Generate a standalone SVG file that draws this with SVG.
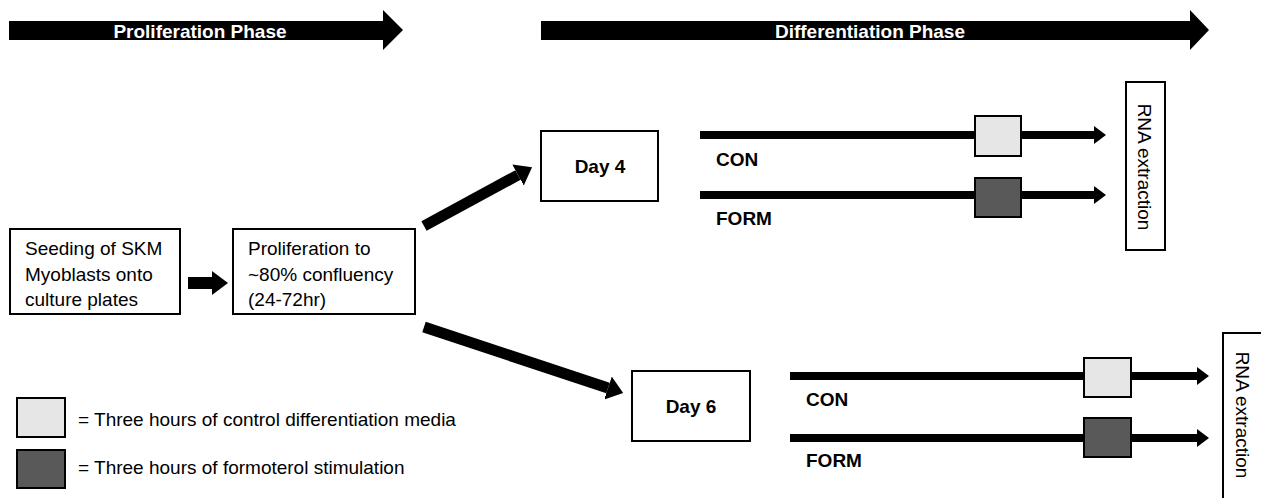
<svg xmlns="http://www.w3.org/2000/svg" width="1261" height="498" viewBox="0 0 1261 498">
<style>
text{font-family:"Liberation Sans",Arial,sans-serif;fill:#000}
.box{fill:#fff;stroke:#000;stroke-width:2}
.light{fill:#e6e6e6;stroke:#000;stroke-width:2}
.dark{fill:#595959;stroke:#000;stroke-width:2}
.t{font-size:19px}
.b{font-size:19px;font-weight:bold}
.ph{font-size:19px;font-weight:bold;fill:#fff}
.ln{stroke:#000;stroke-width:8;fill:none}
.fat{stroke:#000;stroke-width:11;fill:none}
</style>
<defs>
<marker id="ah" markerUnits="userSpaceOnUse" markerWidth="12" markerHeight="18" refX="0" refY="9" orient="auto">
<path d="M0,0 L12,9 L0,18 Z" fill="#000"/>
</marker>
<marker id="ahb" markerUnits="userSpaceOnUse" markerWidth="16" markerHeight="24" refX="0" refY="12" orient="auto">
<path d="M0,0 L16,12 L0,24 Z" fill="#000"/>
</marker>
</defs>
<g id="phase-proliferation">
<path d="M9,21 L383,21 L383,10 L403,30 L383,50 L383,40 L9,40 Z" fill="#000"/>
<text class="ph" x="200" y="38" text-anchor="middle">Proliferation Phase</text>
</g>
<g id="phase-differentiation">
<path d="M541,21 L1190,21 L1190,10 L1209,30 L1190,50 L1190,40 L541,40 Z" fill="#000"/>
<text class="ph" x="870" y="38" text-anchor="middle">Differentiation Phase</text>
</g>
<g id="connectors">
<path d="M188,283 L212,283" stroke="#000" stroke-width="12" marker-end="url(#ahb)"/>
<path d="M424,226 L518,175" class="fat" marker-end="url(#ahb)"/>
<path d="M424,327 L608,388" class="fat" marker-end="url(#ahb)"/>
<path d="M700,135 L1094,135" class="ln" marker-end="url(#ah)"/>
<path d="M700,195 L1094,195" class="ln" marker-end="url(#ah)"/>
<path d="M790,376 L1197,376" class="ln" marker-end="url(#ah)"/>
<path d="M790,438 L1197,438" class="ln" marker-end="url(#ah)"/>
</g>
<g id="node-seeding">
<rect class="box" x="10" y="229" width="170" height="85"/>
<text class="t" x="25" y="255">Seeding of SKM</text>
<text class="t" x="25" y="281">Myoblasts onto</text>
<text class="t" x="25" y="306">culture plates</text>
</g>
<g id="node-proliferation">
<rect class="box" x="233" y="229" width="182" height="85"/>
<text class="t" x="248" y="255">Proliferation to</text>
<text class="t" x="248" y="281">~80% confluency</text>
<text class="t" x="248" y="306">(24-72hr)</text>
</g>
<g id="node-day4">
<rect class="box" x="541" y="131" width="117" height="70"/>
<text class="b" x="600" y="173" text-anchor="middle">Day 4</text>
</g>
<g id="node-day6">
<rect class="box" x="632" y="371" width="118" height="70"/>
<text class="b" x="691" y="413" text-anchor="middle">Day 6</text>
</g>
<g id="labels-day4">
<text class="b" x="716" y="166">CON</text>
<text class="b" x="716" y="225">FORM</text>
</g>
<g id="labels-day6">
<text class="b" x="806" y="406">CON</text>
<text class="b" x="806" y="467">FORM</text>
</g>
<g id="treat-day4-con"><rect class="light" x="975" y="116" width="46" height="40"/></g>
<g id="treat-day4-form"><rect class="dark" x="975" y="178" width="46" height="39"/></g>
<g id="treat-day6-con"><rect class="light" x="1084" y="358" width="47" height="39"/></g>
<g id="treat-day6-form"><rect class="dark" x="1084" y="418" width="47" height="39"/></g>
<g id="node-rna1">
<rect class="box" x="1126" y="82" width="39" height="168"/>
<text class="t" transform="translate(1138,167) rotate(90)" text-anchor="middle">RNA extraction</text>
</g>
<g id="node-rna2">
<rect class="box" x="1223" y="333" width="40" height="170"/>
<text class="t" transform="translate(1236,415) rotate(90)" text-anchor="middle">RNA extraction</text>
</g>
<g id="legend">
<rect class="light" x="17" y="398" width="48" height="39"/>
<text class="t" x="78" y="426">= Three hours of control differentiation media</text>
<rect class="dark" x="17" y="450" width="48" height="38"/>
<text class="t" x="78" y="474">= Three hours of formoterol stimulation</text>
</g>
</svg>
